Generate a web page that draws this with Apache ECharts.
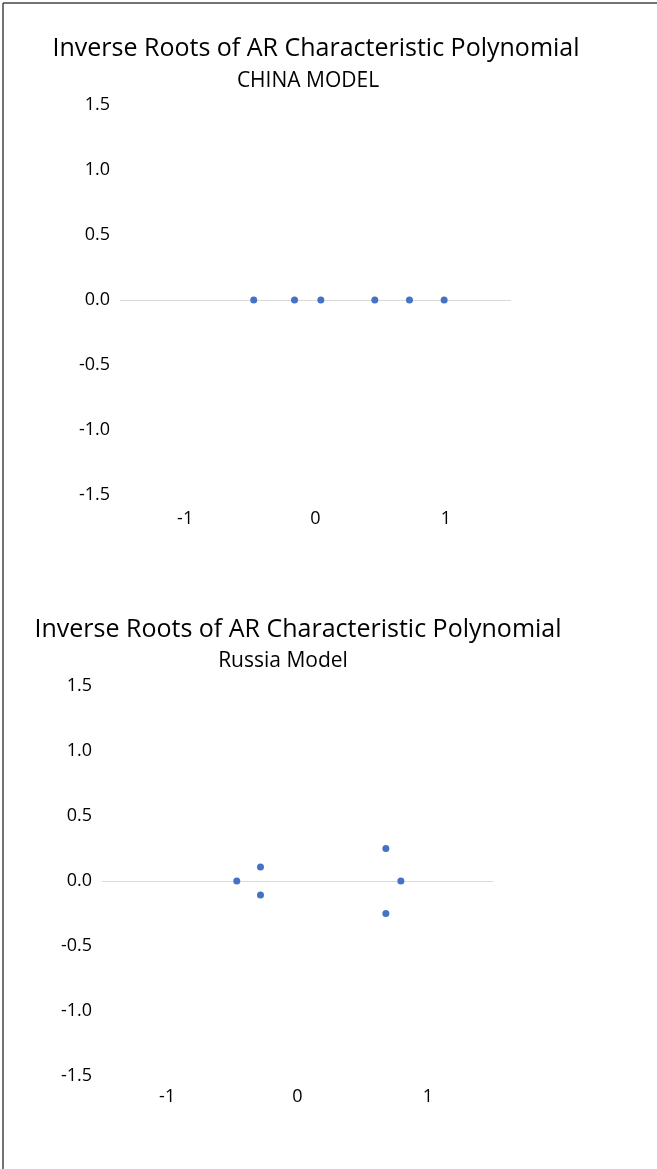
<!DOCTYPE html>
<html>
<head>
<meta charset="utf-8">
<script src="https://cdn.jsdelivr.net/npm/echarts@6/dist/echarts.min.js"></script>
<style>
  html, body { margin: 0; padding: 0; background: #fff; }
  #chart { width: 657px; height: 1169px; }
</style>
</head>
<body>
<div id="chart"></div>
<script>
  // inverse roots
  const chinaReal = [-0.474, -0.161, 0.041, 0.455, 0.721, 0.987];
  const chinaImag = [0, 0, 0, 0, 0, 0];
  const russiaReal = [-0.466, -0.284, -0.284, 0.678, 0.678, 0.793];
  const russiaImag = [0, 0.108, -0.108, 0.25, -0.25, 0];
  const axisTicks = [-1.5, -1.0, -0.5, 0.0, 0.5, 1.0, 1.5];

  const mainTitle = 'Inverse Roots of AR Characteristic Polynomial';
  const subTitles = ['CHINA MODEL', 'Russia Model'];

  const font = "'Open Sans', sans-serif";

  function pairs(xs, ys) {
    return xs.map((x, i) => [x, ys[i]]);
  }

  function xAxisFor(gridIndex, margin) {
    return {
      gridIndex: gridIndex,
      type: 'value',
      min: axisTicks[0],
      max: axisTicks[axisTicks.length - 1],
      interval: 0.5,
      axisLine: { show: false },
      axisTick: { show: false },
      splitLine: { show: false },
      axisLabel: {
        margin: margin,
        color: '#000',
        fontSize: 18,
        fontFamily: font,
        // only whole numbers get a label, like the original
        formatter: (v) => (Math.abs(v - Math.round(v)) < 1e-9 ? String(Math.round(v)) : ''),
      },
    };
  }

  function yAxisFor(gridIndex) {
    return {
      gridIndex: gridIndex,
      type: 'value',
      min: axisTicks[0],
      max: axisTicks[axisTicks.length - 1],
      interval: 0.5,
      axisLine: { show: false },
      axisTick: { show: false },
      splitLine: { show: false },
      axisLabel: {
        margin: 10,
        color: '#000',
        fontSize: 18,
        fontFamily: font,
        formatter: (v) => v.toFixed(1),
      },
    };
  }

  function rootSeries(idx, data) {
    return {
      type: 'scatter',
      xAxisIndex: idx,
      yAxisIndex: idx,
      data: data,
      symbolSize: 7,
      itemStyle: { color: '#4472C4', opacity: 1, borderWidth: 0 },
      markLine: {
        silent: true,
        z: 1,
        symbol: 'none',
        label: { show: false },
        lineStyle: { color: '#d9d9d9', width: 1, type: 'solid' },
        data: [{ yAxis: 0 }],
      },
      z: 3,
    };
  }

  function titleAt(text, x, y, size) {
    return {
      text: text, left: x, top: y, textAlign: 'center',
      textStyle: { fontSize: size, fontWeight: 'normal', color: '#000', fontFamily: font },
    };
  }

  const chart = echarts.init(document.getElementById('chart'));
  chart.setOption({
    animation: false,
    title: [
      titleAt(mainTitle, 311, 31, 25),
      titleAt(subTitles[0], 303, 66, 21),
      titleAt(mainTitle, 293, 612, 25),
      titleAt(subTitles[1], 278, 646, 21),
    ],
    grid: [
      { left: 120, top: 105, width: 391, height: 390 },
      { left: 102, top: 686, width: 391, height: 390 },
    ],
    xAxis: [xAxisFor(0, 15), xAxisFor(1, 12)],
    yAxis: [yAxisFor(0), yAxisFor(1)],
    series: [
      rootSeries(0, pairs(chinaReal, chinaImag)),
      rootSeries(1, pairs(russiaReal, russiaImag)),
    ],
    graphic: [
      { type: 'line', shape: { x1: 3, y1: 3, x2: 657, y2: 3 }, style: { stroke: '#444', lineWidth: 1.5 } },
      { type: 'line', shape: { x1: 3, y1: 3, x2: 3, y2: 1169 }, style: { stroke: '#444', lineWidth: 1.5 } },
    ],
  });
  window.addEventListener('resize', chart.resize);
</script>
</body>
</html>
